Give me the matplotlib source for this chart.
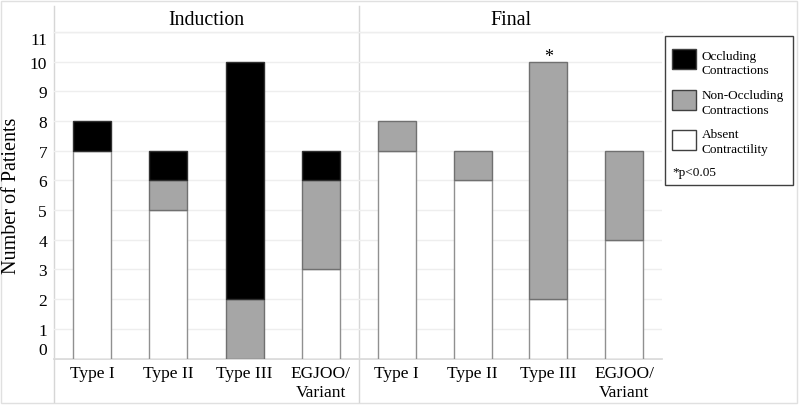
import matplotlib
matplotlib.use("Agg")
import matplotlib.pyplot as plt
from matplotlib.patches import Rectangle
import numpy as np

plt.rcParams['font.family'] = ['Liberation Serif', 'DejaVu Serif']

categories = ["Type I", "Type II", "Type III", "EGJOO/\nVariant"]
panels = ["Induction", "Final"]
absent = {"Induction": [7, 5, 0, 3], "Final": [7, 6, 2, 4]}
non_occluding = {"Induction": [0, 1, 2, 3], "Final": [1, 1, 8, 3]}
occluding = {"Induction": [1, 1, 8, 1], "Final": [0, 0, 0, 0]}
yticks = list(range(0, 12))
legend_labels = ["Occluding\nContractions", "Non-Occluding\nContractions", "Absent\nContractility"]
note = "*p<0.05"

W, H = 800, 406
fig = plt.figure(figsize=(W / 100, H / 100), dpi=100)

# overlay in pixel coordinates
ov = fig.add_axes([0, 0, 1, 1])
ov.set_xlim(0, W)
ov.set_ylim(H, 0)
ov.axis('off')
lc = '#d6d6d6'
ov.add_patch(Rectangle((1, 2), 796, 402, fill=False, edgecolor='#e0e0e0', lw=1))
ov.plot([54, 54], [7, 403], color=lc, lw=1)
ov.plot([359, 359], [7, 403], color=lc, lw=1)
ov.plot([54, 662], [33, 33], color='#e6e6e6', lw=1)
ov.plot([54, 662], [359.5, 359.5], color=lc, lw=1.2)

x0s = [54, 359]
x1s = [359, 662]
top, bot = 33, 359.5
colors = ['black', '#a6a6a6', 'white']
edges = ['#303030', '#707070', '#909090']


def masked_bar(ax, x, h, b, fc, ec):
    m = h > 0
    ax.bar(x[m], h[m], bottom=b[m], width=0.5, color=fc, edgecolor=ec, lw=1, zorder=3)


for i, p in enumerate(panels):
    ax = fig.add_axes([x0s[i] / W, (H - bot) / H, (x1s[i] - x0s[i]) / W, (bot - top) / H])
    ax.set_facecolor('none')
    x = np.arange(len(categories))
    a = np.array(absent[p]); n = np.array(non_occluding[p]); o = np.array(occluding[p])
    masked_bar(ax, x, a, np.zeros_like(a), 'white', '#909090')
    masked_bar(ax, x, n, a, '#a6a6a6', '#707070')
    masked_bar(ax, x, o, a + n, 'black', '#303030')
    ax.set_xlim(-0.5, 3.5)
    ax.set_ylim(0, 11)
    ax.set_yticks(yticks)
    ax.set_xticks(x)
    ax.set_xticklabels(categories, fontsize=12.5)
    ax.grid(axis='y', color='#eeeeee', lw=1, zorder=0)
    ax.tick_params(length=0, pad=5)
    for s in ax.spines.values():
        s.set_visible(False)
    if i == 0:
        ax.set_yticklabels([str(v) for v in yticks], fontsize=12.5)
        ticks = ax.yaxis.get_major_ticks()
        ticks[0].label1.set_va('bottom')
        ticks[-1].label1.set_va('top')
        ax.set_ylabel("Number of Patients", fontsize=14.5, labelpad=6)
    else:
        ax.set_yticklabels([])
        tot = a + n + o
        k = 2
        ax.text(x[k], tot[k] - 0.12, "*", ha='center', va='bottom', fontsize=13)
    ov.text((x0s[i] + x1s[i]) / 2, 20.5, p, ha='center', va='center', fontsize=14.3)

# legend
ov.add_patch(Rectangle((665, 37), 128, 149, fill=False, edgecolor='#404040', lw=1))
pat_y = [50, 91, 131]
txt_y = [64, 103.5, 142.5]
for c, e, py, ty, lab in zip(colors, edges, pat_y, txt_y, legend_labels):
    ov.add_patch(Rectangle((672, py), 24, 20, facecolor=c, edgecolor='#404040', lw=1))
    ov.text(702, ty, lab, ha='left', va='center', fontsize=9.5, linespacing=1.25)
ov.text(672, 173, note, ha='left', va='center', fontsize=9.5)

fig.savefig("out.png", dpi=100)
